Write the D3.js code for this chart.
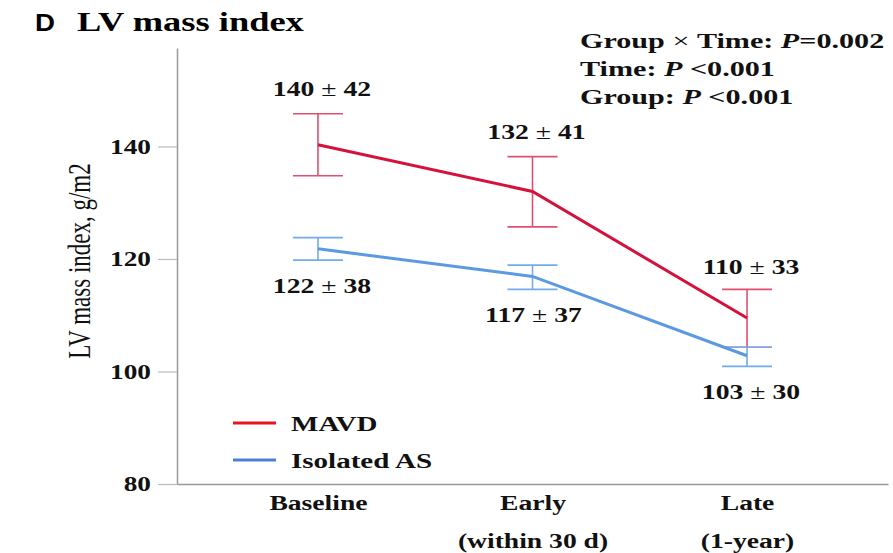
<!DOCTYPE html>
<html>
<head>
<meta charset="utf-8">
<script src="https://cdn.jsdelivr.net/npm/d3@7"></script>
<style>
  body { margin: 0; background: #fff; }
  svg text { font-family: "Liberation Serif", "Times New Roman", serif; }
</style>
</head>
<body>
<svg id="chart" width="893" height="553"></svg>
<script>
var timepoints = ["Baseline", "Early", "Late"];
var subLabels = ["", "(within 30 d)", "(1-year)"];
var yTicks = [80, 100, 120, 140];

var mavdMean = [140.3, 132.0, 109.5];
var mavdLow = [134.8, 125.7, 104.3];
var mavdHigh = [145.8, 138.2, 114.6];
var mavdText = ["140\u00b142", "132\u00b141", "110\u00b133"];

var asMean = [121.8, 116.9, 102.8];
var asLow = [119.8, 114.6, 100.9];
var asHigh = [123.8, 118.9, 104.3];
var asText = ["122\u00b138", "117\u00b137", "103\u00b130"];

var stats = [
  [["Group", ""], [" \u00d7 ", "n"], ["Time: ", ""], ["P", "i"], ["=0.002", ""]],
  [["Time: ", ""], ["P", "i"], [" <0.001", ""]],
  [["Group: ", ""], ["P", "i"], [" <0.001", ""]]
];

// the original picture is stretched sideways, so text is widened to match
function stretch(sel, sx) {
  sel.each(function() {
    var t = d3.select(this);
    var tx = +t.attr("x") || 0, ty = +t.attr("y") || 0;
    t.attr("x", 0).attr("y", 0)
      .attr("transform", "translate(" + tx + "," + ty + ") scale(" + sx + ",1)");
  });
}

var svg = d3.select("#chart"),
    margin = {top: 48, right: 5, bottom: 69, left: 177},
    width = +svg.attr("width") - margin.left - margin.right,
    height = +svg.attr("height") - margin.top - margin.bottom,
    g = svg.append("g").attr("transform", "translate(" + margin.left + "," + margin.top + ")");

var x = d3.scalePoint().domain(timepoints).range([0, width]).padding(0.657);
var y = d3.scaleLinear().domain([80, 157.5]).range([height, 0]);

// axes
var yAxis = g.append("g")
    .call(d3.axisLeft(y).tickValues(yTicks).tickSize(19).tickPadding(7).tickSizeOuter(0));
yAxis.select(".domain").attr("stroke", "#999").attr("stroke-width", 1.5);
yAxis.selectAll(".tick line").attr("stroke", "#bbb").attr("stroke-width", 1.2);
yAxis.selectAll(".tick text")
    .style("font-family", "Liberation Serif").style("font-weight", "bold")
    .style("font-size", "21px").attr("fill", "#111")
    .call(stretch, 1.3);

var xAxis = g.append("g").attr("transform", "translate(0," + height + ")")
    .call(d3.axisBottom(x).tickSize(0).tickPadding(12).tickSizeOuter(0));
xAxis.select(".domain").attr("stroke", "#999").attr("stroke-width", 1.5);
xAxis.selectAll(".tick").append("text")
    .attr("y", 64)
    .attr("text-anchor", "middle")
    .text(function(d, i) { return subLabels[i]; });
xAxis.selectAll(".tick text")
    .style("font-family", "Liberation Serif").style("font-weight", "bold")
    .style("font-size", "20px").attr("fill", "#111")
    .call(stretch, 1.38);

// series
var series = [
  {mean: mavdMean, low: mavdLow, high: mavdHigh, text: mavdText, line: "#d4123c", bar: "#e0506e"},
  {mean: asMean, low: asLow, high: asHigh, text: asText, line: "#5b9ae0", bar: "#72acec"}
];
var labelOffset = [[-57, -60, -52], [36, 38, 35]];

series.forEach(function(s, si) {
  var pts = timepoints.map(function(t, i) { return [x(t), y(s.mean[i])]; });
  var bars = g.append("g");
  timepoints.forEach(function(t, i) {
    var cx = x(t);
    bars.append("line").attr("x1", cx).attr("x2", cx).attr("y1", y(s.low[i])).attr("y2", y(s.high[i]));
    bars.append("line").attr("x1", cx - 25).attr("x2", cx + 25).attr("y1", y(s.low[i])).attr("y2", y(s.low[i]));
    bars.append("line").attr("x1", cx - 25).attr("x2", cx + 25).attr("y1", y(s.high[i])).attr("y2", y(s.high[i]));
  });
  bars.selectAll("line").attr("stroke", s.bar).attr("stroke-width", 1.6);
  g.append("path").datum(pts)
    .attr("d", d3.line())
    .attr("fill", "none").attr("stroke", s.line).attr("stroke-width", 3);
  var labs = g.selectAll(".lab" + si).data(timepoints).enter().append("text")
    .attr("x", function(d) { return x(d) + 4 - (si === 1 && d === "Early" ? 3 : 0); })
    .attr("y", function(d, i) { return y(s.mean[i]) + labelOffset[si][i] + 8; })
    .attr("text-anchor", "middle")
    .style("font-weight", "bold").style("font-size", "22px").attr("fill", "#111");
  labs.each(function(d, i) {
    var parts = s.text[i].split("\u00b1");
    var t = d3.select(this);
    t.append("tspan").text(parts[0]);
    t.append("tspan").style("font-weight", "normal").text(" \u00b1 ");
    t.append("tspan").text(parts[1]);
  });
  labs.call(stretch, 1.26);
});

// legend
var legend = [["MAVD", "#e8141e"], ["Isolated AS", "#4a80d2"]];
legend.forEach(function(l, i) {
  var ly = 423 + i * 37;
  svg.append("line").attr("x1", 233).attr("x2", 276).attr("y1", ly).attr("y2", ly)
    .attr("stroke", l[1]).attr("stroke-width", 3);
  svg.append("text").attr("x", 291).attr("y", ly + 8)
    .style("font-weight", "bold").style("font-size", "22px").attr("fill", "#111").text(l[0])
    .call(stretch, 1.32);
});

// title
svg.append("text").attr("x", 35).attr("y", 31)
  .style("font-family", "Liberation Sans").style("font-weight", "bold").style("font-size", "24px")
  .text("D").call(stretch, 1.15);
svg.append("text").attr("x", 77).attr("y", 31)
  .style("font-weight", "bold").style("font-size", "27px").text("LV mass index")
  .call(stretch, 1.35);

// y label
svg.append("text")
  .attr("transform", "translate(90,261) rotate(-90) scale(1,1.35)")
  .attr("text-anchor", "middle")
  .style("font-size", "23px").attr("fill", "#111")
  .text("LV mass index, g/m2");

// stats
stats.forEach(function(line, i) {
  var t = svg.append("text").attr("x", 580).attr("y", 48 + i * 28)
    .style("font-weight", "bold").style("font-size", "22px").attr("fill", "#111");
  line.forEach(function(p) {
    t.append("tspan")
      .style("font-style", p[1] === "i" ? "italic" : "normal")
      .style("font-weight", p[1] === "n" ? "normal" : "bold")
      .text(p[0]);
  });
  t.call(stretch, 1.37);
});
</script>
</body>
</html>
